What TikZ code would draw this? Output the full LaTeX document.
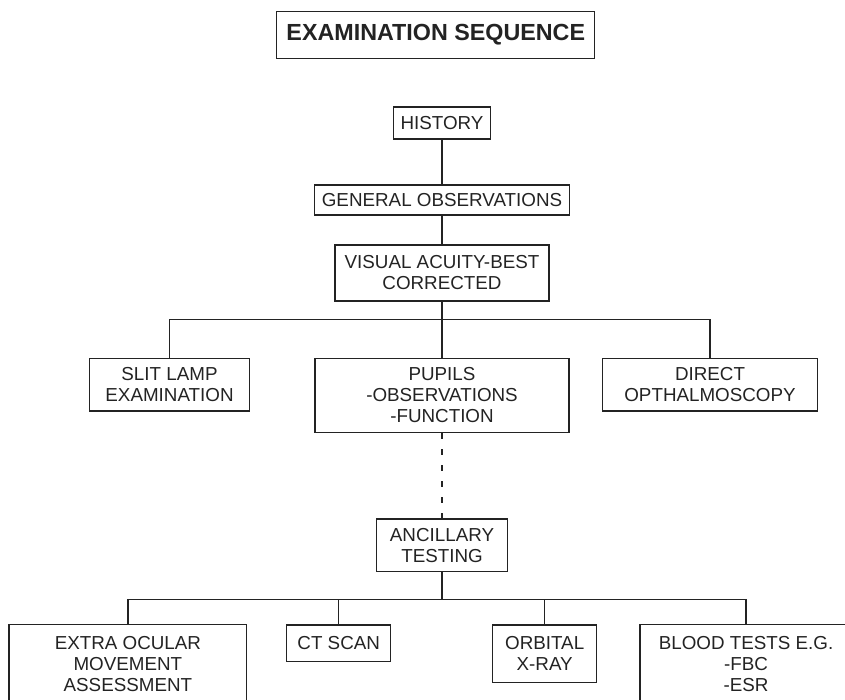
\documentclass[tikz,border=0pt]{standalone}
\usepackage{fontspec}
\setmainfont{Liberation Sans}
\definecolor{inkgray}{RGB}{35,35,35}

\begin{document}
\begin{tikzpicture}[x=1pt, y=-1pt, line width=1.2pt, color=inkgray,
    box/.style={draw, align=center, inner sep=0pt, font=\fontsize{18.8}{21}\selectfont}]
        \useasboundingbox (0,0) rectangle (845,700);

        % Title
        \node[box, font=\fontsize{23.3}{27}\selectfont\bfseries, minimum width=318, minimum height=46.6] (title) at (435.8,35) {EXAMINATION SEQUENCE};

        % Main column
        \node[box, minimum width=97, minimum height=32] (history) at (442,123) {HISTORY};
        \node[box, minimum width=255, minimum height=30] (general) at (442,200) {GENERAL OBSERVATIONS};
        \node[box, minimum width=214, minimum height=56] (visual) at (442,273) {VISUAL ACUITY-BEST\\CORRECTED};

        % Row 1: clinical examination
        \node[box, minimum width=160.5, minimum height=52.7] (slit) at (169.5,384.7) {SLIT LAMP\\EXAMINATION};
        \node[box, minimum width=254, minimum height=74.4] (pupils) at (442,395.5) {PUPILS\\-OBSERVATIONS\\-FUNCTION};
        \node[box, minimum width=214.6, minimum height=52.7] (direct) at (710,384.7) {DIRECT\\OPTHALMOSCOPY};

        \node[box, minimum width=131.3, minimum height=52.7] (ancillary) at (442,545.4) {ANCILLARY\\TESTING};

        % Row 2: ancillary tests
        \node[box, minimum width=237.7, minimum height=79] (extra) at (127.9,663.8) {EXTRA OCULAR\\MOVEMENT\\ASSESSMENT};
        \node[box, minimum width=104, minimum height=36.7] (ct) at (338.7,643.3) {CT SCAN};
        \node[box, minimum width=104, minimum height=57.3] (orbital) at (544.7,653.7) {ORBITAL\\X-RAY};
        \node[box, minimum width=212, minimum height=79] (blood) at (746,663.8) {BLOOD TESTS E.G.\\-FBC\\-ESR};

        % Connectors
        \draw (history) -- (general);
        \draw (general) -- (visual);
        \coordinate (fork1) at (442,319.5);
        \draw (visual) -- (fork1);
        \draw (slit.north) |- (fork1) -| (direct.north);
        \draw (fork1) -- (pupils);

        \draw[dash pattern=on 6pt off 10pt] (pupils) -- (ancillary);

        \coordinate (fork2) at (442,599.5);
        \draw (ancillary) -- (fork2);
        \draw (extra.north) |- (fork2) -| (blood.north);
        \draw (ct.north) |- (fork2);
        \draw (orbital.north) |- (fork2);
    \end{tikzpicture}
\end{document}
